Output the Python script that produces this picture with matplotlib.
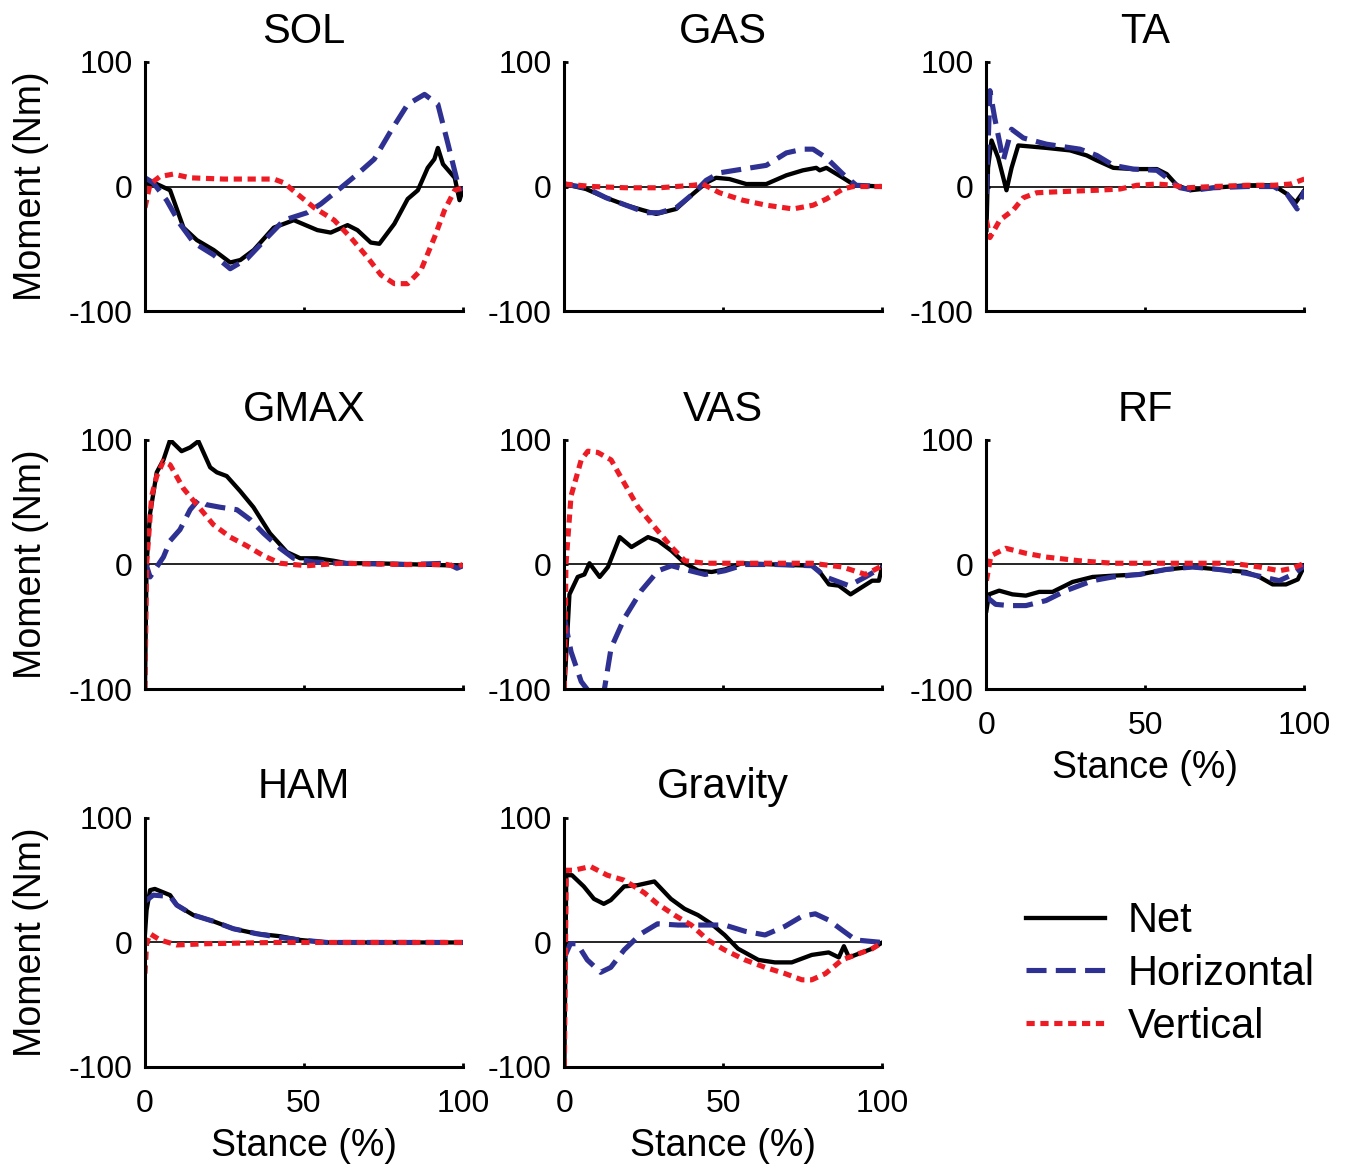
import numpy as np
import matplotlib
matplotlib.use('Agg')
import matplotlib.pyplot as plt

plt.rcParams['font.family'] = ['Liberation Sans', 'DejaVu Sans']
plt.rcParams['axes.unicode_minus'] = False

# パネル名と凡例
muscles = ['SOL', 'GAS', 'TA', 'GMAX', 'VAS', 'RF', 'HAM', 'Gravity']
series_labels = ['Net', 'Horizontal', 'Vertical']
x_ticks = [0, 50, 100]
y_ticks = [-100, 0, 100]

# (stance %, moment Nm)
sol_net = [(0, 2), (3.7, 2), (7.9, -3), (12.1, -33), (16.3, -43), (21.6, -51), (26.8, -61), (30, -59),
           (34.2, -51), (40.5, -33), (46.8, -27), (54.2, -35), (58.4, -37), (63.7, -31), (66.8, -35),
           (71, -45), (73.7, -46), (78.4, -30), (82.6, -10), (85.8, -3), (88.9, 15), (91, 22), (92.1, 31),
           (93.7, 18), (97.4, 7), (98.9, -11), (100, -2)]
sol_hor = [(0, 7), (2.6, 3), (6.8, -11), (11, -30), (15.3, -45), (21.6, -55), (26.8, -66), (32.1, -58),
           (38.4, -41), (43.7, -27), (51, -21), (55.3, -14), (61.6, -1), (66.8, 10), (72.1, 22), (77.4, 45),
           (82.6, 66), (87.9, 74), (92.1, 66), (95.3, 34), (98.4, 2), (100, -3)]
sol_ver = [(0, -17), (1.6, 2), (4.7, 8), (8.9, 10), (14.2, 7), (24.7, 6), (35.3, 6), (40.5, 6), (43.7, 3),
           (47.9, -6), (53.2, -17), (59.5, -27), (64.7, -41), (70, -57), (74.2, -71), (78.4, -78),
           (82.6, -78), (86.8, -67), (91, -41), (94.2, -19), (97.4, -3), (100, -1)]

gas_net = [(0, 2), (6.8, -2), (13.1, -9), (19.4, -15), (24.7, -19), (28.9, -22), (35.2, -18), (40.4, -6),
           (44.6, 3), (47.7, 7), (51.9, 6), (57.2, 2), (63.5, 2), (69.8, 9), (75, 13), (79.2, 15), (80.3, 13),
           (82.4, 15), (87.6, 7), (91.3, 1), (100, 0)]
gas_hor = [(0, 2), (6.8, -1), (13.1, -9), (19.4, -15), (25.7, -21), (29.9, -21), (35.2, -17), (40.4, -6),
           (44.6, 5), (48.8, 11), (56.1, 14), (63.5, 17), (69.8, 27), (75, 30), (78.2, 30), (82.4, 23),
           (87.6, 10), (91.8, 1), (100, 0)]
gas_ver = [(0, 2), (8.9, 0), (19.4, -1), (29.9, -1), (40.4, 1), (43.5, 2), (48.8, -5), (56.1, -11),
           (63.5, -15), (71.9, -18), (78.2, -15), (82.4, -10), (87.6, -2), (90.8, 0), (100, 0)]

ta_net = [(0, -35), (0.5, 15), (1.6, 37), (3.7, 23), (6.3, -3), (7.9, 15), (10, 33), (18.9, 31), (26.3, 29),
          (31.5, 25), (34.7, 21), (39.9, 15), (46.2, 14), (53.6, 14), (56.7, 10), (59.9, 1), (64.1, -3),
          (71.4, -1), (81.9, 1), (90.3, 1), (94.5, -6), (97.2, -13), (100, -3)]
ta_hor = [(0, -6), (1.1, 77), (2.6, 55), (5.3, 21), (7.9, 46), (11.6, 39), (18.9, 34), (29.4, 30), (34.7, 25),
          (39.9, 17), (46.2, 14), (53.6, 13), (56.7, 7), (60.9, -1), (65.1, -3), (71.4, -1), (81.9, 0),
          (90.3, 0), (94.5, -6), (97.7, -18), (100, -3)]
ta_ver = [(0, -27), (1.1, -41), (4.2, -27), (8.4, -19), (11.6, -9), (15.8, -5), (24.2, -4), (34.7, -3),
          (42, -2), (47.3, 1), (53.6, 2), (58.8, 1), (63, -1), (71.4, 0), (81.9, 1), (90.3, 1), (95.6, 2),
          (100, 6)]

gmax_net = [(0, -100), (0.5, 0), (1.6, 41), (3.7, 74), (5.8, 84), (7.9, 100), (11.5, 91), (14.2, 94),
            (16.8, 99), (20.5, 78), (22.6, 74), (25.7, 71), (29.9, 59), (34.1, 46), (39.3, 25), (44.6, 10),
            (48.8, 5), (54, 5), (59.3, 3), (63.5, 1), (71.9, 1), (100, -1)]
gmax_hor = [(0, 3), (1.6, -10), (3.7, -2), (5.8, 6), (7.9, 19), (11, 28), (14.2, 44), (16.8, 52), (19.4, 48),
            (23.6, 46), (28.9, 44), (33.1, 36), (37.3, 25), (42.5, 13), (46.7, 5), (53, 2), (61.4, 1),
            (82.4, 0), (95, 1), (98.1, -3), (100, -1)]
gmax_ver = [(0, -100), (0.5, 0), (2.1, 55), (3.7, 71), (5.8, 83), (7.9, 80), (12.1, 61), (17.3, 45),
            (21.5, 32), (26.8, 22), (32, 15), (37.3, 7), (42.5, 1), (50.9, -1), (61.4, 1), (82.4, 0), (95, 0),
            (98.1, -2), (100, 0)]

vas_net = [(0, -100), (1.6, -24), (4.2, -10), (6.3, -8), (7.9, 1), (11.1, -10), (13.7, -2), (17.4, 22),
           (21.1, 14), (26.3, 22), (29.5, 19), (33.7, 11), (37.9, 1), (42.1, -5), (46.3, -6), (50.5, -4),
           (55.8, 1), (66.3, 0), (77.9, -1), (80, -5), (83.2, -16), (86.3, -17), (90, -24), (93.7, -18),
           (96.8, -13), (98.9, -13), (100, -1)]
vas_hor = [(0, -43), (2.1, -70), (5.3, -94), (8, -103), (11, -106), (12.6, -100), (14.7, -67), (18.9, -43),
           (24.2, -21), (29.5, -5), (33.7, -1), (37.9, -4), (44.2, -8), (50.5, -5), (56.8, 0), (66.3, 0),
           (77.9, -1), (82.1, -10), (86.3, -14), (89.5, -17), (94.7, -10), (100, -2)]
vas_ver = [(0, -100), (0.5, 0), (2.1, 55), (5.3, 84), (7.4, 91), (10.5, 90), (14.7, 84), (18.9, 65),
           (23.2, 46), (28.4, 30), (33.7, 14), (37.9, 3), (44.2, 1), (55.8, 1), (77.9, 1), (87.4, -2),
           (94.7, -8), (100, -1)]

rf_net = [(0, -37), (0.8, -24), (4, -21), (8.2, -24), (12.4, -25), (16.6, -22), (20.8, -22), (27.1, -14),
          (33.4, -10), (39.7, -9), (48.1, -8), (56.5, -4), (64.8, -2), (73.2, -4), (81.6, -6), (85.8, -10),
          (90, -16), (94.2, -16), (97.9, -12), (100, -1)]
rf_hor = [(0, -26), (2.9, -32), (7.1, -33), (12.4, -33), (18.7, -29), (25, -21), (33.4, -13), (39.7, -10),
          (48.1, -8), (56.5, -4), (64.8, -2), (73.2, -4), (81.6, -7), (86.9, -10), (92.1, -13), (96.3, -8),
          (100, -1)]
rf_ver = [(0, -13), (1.4, 7), (6.1, 13), (12.4, 9), (18.7, 6), (29.2, 3), (39.7, 1), (50.2, 1), (64.8, 1),
          (77.4, 1), (85.8, -2), (92.1, -5), (96.3, -3), (100, 1)]

ham_net = [(0, 7), (0.5, 26), (1.6, 42), (3.1, 43), (7.9, 38), (10, 30), (15.2, 22), (21.5, 17), (27.8, 11),
           (35.2, 7), (42.5, 5), (48.8, 2), (57.2, 0), (100, 0)]
ham_hor = [(0, 33), (2.6, 38), (7.9, 37), (10, 30), (15.2, 22), (21.5, 17), (27.8, 11), (35.2, 7), (42.5, 4),
           (48.8, 2), (57.2, 0), (100, 0)]
ham_ver = [(0, -25), (0.5, -1), (1.6, 7), (4.7, 2), (10, -2), (19.4, -1), (40.4, 0), (100, 0)]

grav_net = [(0, -100), (0.6, 54), (2.4, 54), (6.1, 45), (9.3, 35), (12.4, 31), (14.6, 34), (18.8, 45),
            (23, 46), (28.3, 49), (33.5, 35), (37.8, 27), (42, 22), (46.2, 15), (50.4, 6), (54.6, -5),
            (61, -14), (66.2, -16), (71.5, -16), (77.8, -10), (83.1, -8), (86.3, -12), (87.9, -3),
            (89.5, -12), (92.6, -9), (96.8, -5), (100, 0)]
grav_hor = [(0, -12), (1.9, -1), (4, -1), (7.2, -14), (11.4, -24), (14.6, -20), (18.8, -6), (24.1, 7),
            (29.3, 15), (35.7, 14), (43, 14), (50.4, 14), (56.8, 9), (63.1, 6), (69.4, 13), (74.7, 21),
            (78.9, 23), (83.1, 18), (87.3, 10), (91.6, 2), (95.8, 1), (100, 0)]
grav_ver = [(0, -100), (0.6, 58), (3, 58), (8.2, 61), (13.5, 54), (18.8, 50), (25.1, 40), (29.3, 31),
            (34.6, 22), (39.9, 14), (45.1, 2), (50.4, -6), (56.8, -14), (63.1, -20), (69.4, -25), (74.7, -30),
            (77.8, -30), (82.1, -25), (87.3, -14), (92.6, -9), (96.8, -5), (100, 0)]

panel_data = {
    'SOL': (sol_net, sol_hor, sol_ver),
    'GAS': (gas_net, gas_hor, gas_ver),
    'TA': (ta_net, ta_hor, ta_ver),
    'GMAX': (gmax_net, gmax_hor, gmax_ver),
    'VAS': (vas_net, vas_hor, vas_ver),
    'RF': (rf_net, rf_hor, rf_ver),
    'HAM': (ham_net, ham_hor, ham_ver),
    'Gravity': (grav_net, grav_hor, grav_ver),
}

# 線のスタイル
styles = [
    dict(color='black', lw=3.1),
    dict(color='#2E3192', lw=3.7, dashes=(3.9, 1.8)),
    dict(color='#ED1C24', lw=3.7, dashes=(1.6, 1.1)),
]

fig = plt.figure(figsize=(13.55, 11.72), dpi=100)
lefts = [0.107, 0.4165, 0.728]
bottoms = [0.7346, 0.4121, 0.0896]
w, h = 0.2347, 0.2125

handles = []
for i, name in enumerate(muscles):
    row, col = divmod(i, 3)
    ax = fig.add_axes([lefts[col], bottoms[row], w, h])
    ax.axhline(0, color='black', lw=1.2, zorder=1)
    for pts, st in zip(panel_data[name], styles):
        xs = np.array([p[0] for p in pts])
        ys = np.array([p[1] for p in pts])
        ln, = ax.plot(xs, ys, zorder=2, **st)
        if i == 0:
            handles.append(ln)
    ax.set_xlim(0, 100)
    ax.set_ylim(-100, 100)
    ax.set_xticks(x_ticks)
    ax.set_yticks(y_ticks)
    ax.spines['top'].set_visible(False)
    ax.spines['right'].set_visible(False)
    ax.spines['left'].set_linewidth(2.2)
    ax.spines['bottom'].set_linewidth(2.2)
    ax.tick_params(direction='in', length=3, width=2, labelsize=23)
    ax.tick_params(axis='y', pad=9)
    ax.tick_params(axis='x', pad=16)
    ax.set_title(name, fontsize=30, pad=14)
    if col == 0:
        ax.set_ylabel('Moment (Nm)', fontsize=27, labelpad=14)
    if name in ('RF', 'HAM', 'Gravity'):
        ax.set_xlabel('Stance (%)', fontsize=27, labelpad=6)
    else:
        ax.tick_params(axis='x', labelbottom=False)

# 凡例
fig.legend(handles, series_labels, loc='center left', bbox_to_anchor=(0.757, 1 - 974 / 1172),
           frameon=False, fontsize=30, handlelength=1.9, handletextpad=0.55, labelspacing=0.3,
           borderpad=0, borderaxespad=0)

fig.savefig('out.png', dpi=100)
